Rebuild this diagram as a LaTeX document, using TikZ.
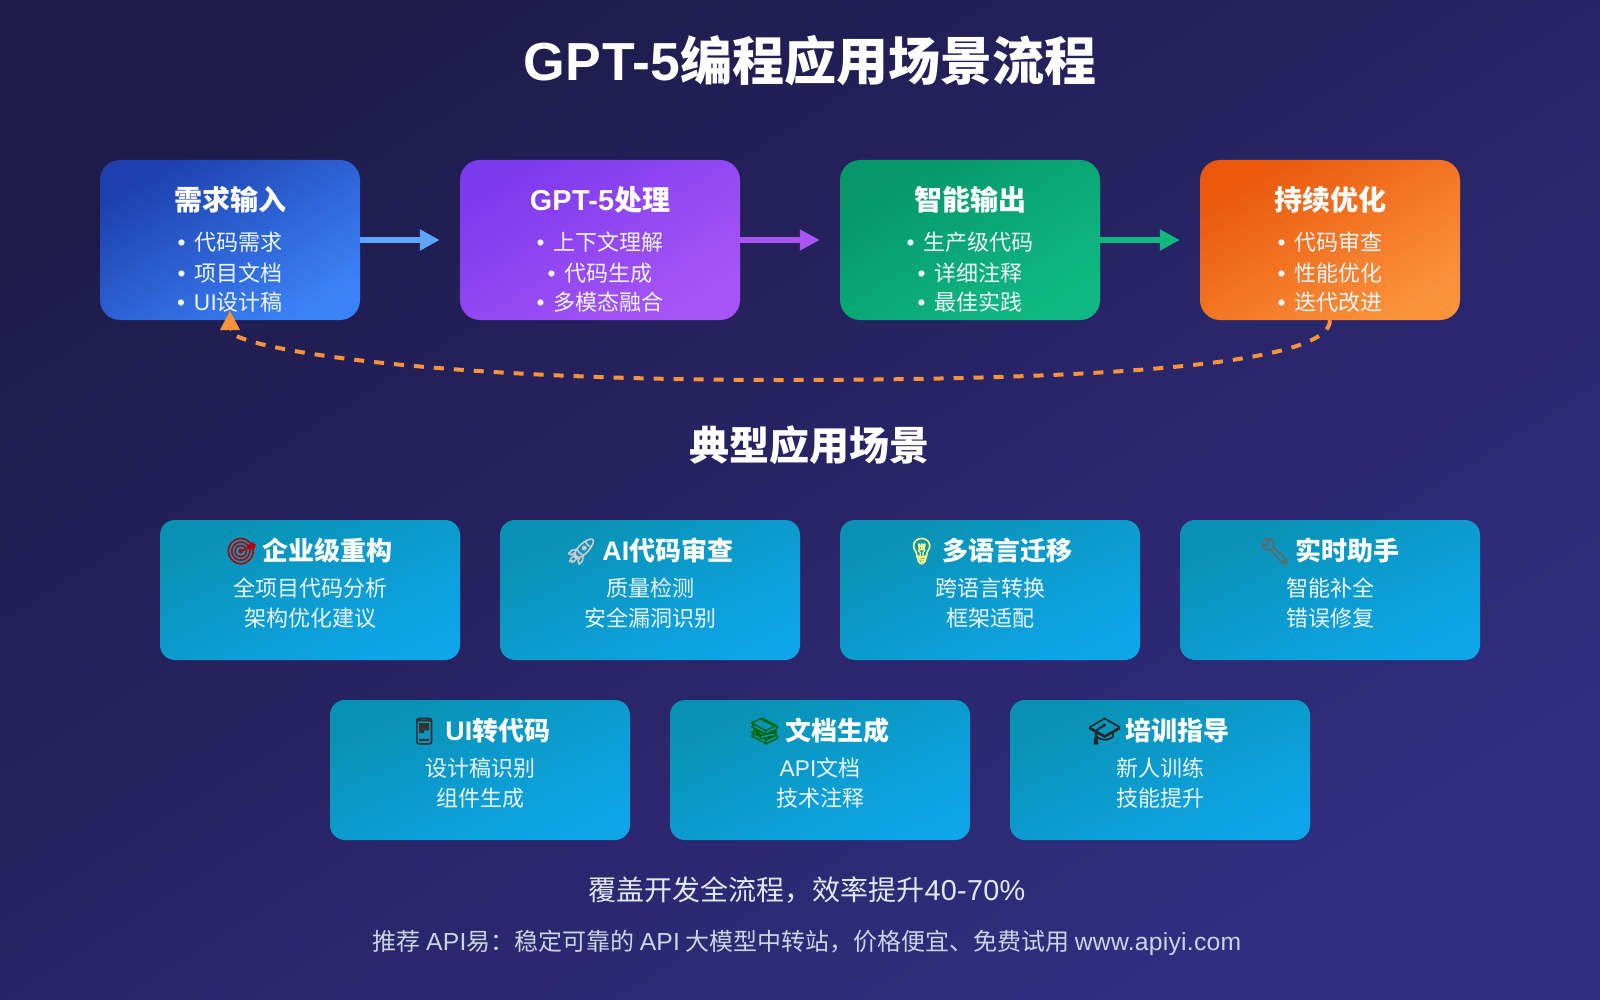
\documentclass[tikz,border=0pt]{standalone}
\usepackage{fontspec}
\setmainfont{Noto Sans CJK SC}
\newfontfamily\enfont[Scale=1.03,LetterSpace=1]{Liberation Sans}
\newfontfamily\emojifont[FakeBold=2]{Noto Emoji}
\usetikzlibrary{arrows.meta}
\newcommand{\en}[1]{{\enfont #1}}
\newcommand{\dotitem}{{\enfont\char"2022}\hspace{0.4em}}
\newcommand{\emo}[2]{{\emojifont\color{#1}#2}\hspace{0.18em}}
\definecolor{bgtop}{HTML}{1E1B4B}
\definecolor{bgend}{HTML}{312E81}
\definecolor{loopcol}{HTML}{FB923C}
\definecolor{linecol}{HTML}{EEF7FD}
\definecolor{sublinecol}{HTML}{E2E8F0}
\definecolor{notecol}{HTML}{CBD5E1}
\definecolor{scenetop}{HTML}{0891B2}
\definecolor{sceneend}{HTML}{0EA5E9}
\definecolor{reqtop}{HTML}{1E40AF}
\definecolor{reqend}{HTML}{3B82F6}
\definecolor{proctop}{HTML}{7C3AED}
\definecolor{procend}{HTML}{A855F7}
\definecolor{outtop}{HTML}{059669}
\definecolor{outend}{HTML}{10B981}
\definecolor{opttop}{HTML}{EA580C}
\definecolor{optend}{HTML}{FB923C}
\definecolor{arrowblue}{HTML}{60A5FA}
\tikzset{
  flowbox/.style n args={3}{rounded corners=20pt,inner sep=0pt,minimum height=160pt,minimum width=#1pt,
    top color=#2,bottom color=#3,shading angle=32},
  scenebox/.style={rounded corners=15pt,inner sep=0pt,minimum width=300pt,minimum height=140pt,
    top color=scenetop,bottom color=sceneend,shading angle=25},
  flowarrow/.style={line width=6pt,draw=#1,shorten >=20pt,-{Triangle[length=20pt,width=20pt,fill=#1]}},
}
\begin{document}
\begin{tikzpicture}[x=1pt,y=-1pt]
    % background
    \path[top color=bgtop,bottom color=bgend,shading angle=32] (0,0) rectangle (1600,1000);
    % flow row
    \node[flowbox={260}{reqtop}{reqend}] (reqbox) at (230,240) {};
    \node[flowbox={280}{proctop}{procend}] (procbox) at (600,240) {};
    \node[flowbox={260}{outtop}{outend}] (outbox) at (970,240) {};
    \node[flowbox={260}{opttop}{optend}] (optbox) at (1330,240) {};
    \draw[flowarrow=arrowblue] (reqbox) -- (procbox);
    \draw[flowarrow=procend] (procbox) -- (outbox);
    \draw[flowarrow=outend] (outbox) -- (optbox);
    % feedback loop
    \coordinate (loopend) at (230,330);
    \coordinate (looptip) at (230,311);
    \draw[loopcol,line width=4pt,dash pattern=on 10pt off 10pt] (optbox.south)
      .. controls (1330,360) and (1146.67,380) .. (780,380)
      .. controls (413.33,380) and (230,346.67) .. (loopend);
    \draw[loopcol,line width=0.1pt,-{Triangle[length=19pt,width=20pt,fill=loopcol]}] (loopend) -- (looptip);
    % scenario cards
    \begin{scope}[every node/.style={scenebox}]
      \node (targetbox) at (310,590) {};
      \node (reviewbox) at (650,590) {};
      \node (langbox) at (990,590) {};
      \node (helpbox) at (1330,590) {};
      \node (uibox) at (480,770) {};
      \node (docbox) at (820,770) {};
      \node (trainbox) at (1160,770) {};
    \end{scope}
    % page headings
    \begin{scope}[every node/.style={anchor=base,white,font=\bfseries}]
      \node[font=\bfseries\fontsize{52}{60}\selectfont] (title) at (810,81) {\en{\bfseries GPT-5}编程应用场景流程};
      \node[font=\bfseries\fontsize{40}{48}\selectfont] (scenetitle) at (809,460) {典型应用场景};
    \end{scope}
    % flow box texts
    \begin{scope}[every node/.style={anchor=base,white,font=\bfseries\fontsize{28}{34}\selectfont}]
      \node (reqtitle) at (230,211) {需求输入};
      \node (proctitle) at (600,211) {\en{\bfseries GPT-5}处理};
      \node (outtitle) at (970,211) {智能输出};
      \node (opttitle) at (1330,211) {持续优化};
    \end{scope}
    \begin{scope}[every node/.style={anchor=base,linecol,font=\fontsize{22}{26}\selectfont}]
      \node (req1) at (230,251) {\dotitem 代码需求};
      \node (req2) at (230,281) {\dotitem 项目文档};
      \node (req3) at (230,310) {\dotitem\en{UI}设计稿};
      \node (proc1) at (600,251) {\dotitem 上下文理解};
      \node (proc2) at (600,281) {\dotitem 代码生成};
      \node (proc3) at (600,310) {\dotitem 多模态融合};
      \node (out1) at (970,251) {\dotitem 生产级代码};
      \node (out2) at (970,281) {\dotitem 详细注释};
      \node (out3) at (970,310) {\dotitem 最佳实践};
      \node (opt1) at (1330,251) {\dotitem 代码审查};
      \node (opt2) at (1330,281) {\dotitem 性能优化};
      \node (opt3) at (1330,310) {\dotitem 迭代改进};
    \end{scope}
    % scenario titles
    \begin{scope}[every node/.style={anchor=base,white,font=\bfseries\fontsize{26}{32}\selectfont}]
      \node (targettitle) at (309,560) {\emo{red!70!black}{🎯}企业级重构};
      \node (reviewtitle) at (649,560) {\emo{white!80!black}{🚀}\en{\bfseries AI}代码审查};
      \node (langtitle) at (989,560) {\emo{yellow!50!white}{💡}多语言迁移};
      \node (helptitle) at (1329,560) {\emo{black!60}{🔧}实时助手};
      \node (uititle) at (479,740) {\emo{black!80}{📱}\en{\bfseries UI}转代码};
      \node (doctitle) at (819,740) {\emo{green!40!black}{📚}文档生成};
      \node (traintitle) at (1159,740) {\emo{black!85}{🎓}培训指导};
    \end{scope}
    % scenario lines
    \begin{scope}[every node/.style={anchor=base,linecol,font=\fontsize{22}{26}\selectfont}]
      \node (target1) at (310,596) {全项目代码分析};
      \node (target2) at (310,626) {架构优化建议};
      \node (review1) at (650,596) {质量检测};
      \node (review2) at (650,626) {安全漏洞识别};
      \node (lang1) at (990,596) {跨语言转换};
      \node (lang2) at (990,626) {框架适配};
      \node (help1) at (1330,596) {智能补全};
      \node (help2) at (1330,626) {错误修复};
      \node (ui1) at (480,776) {设计稿识别};
      \node (ui2) at (480,806) {组件生成};
      \node (doc1) at (820,776) {\en{API}文档};
      \node (doc2) at (820,806) {技术注释};
      \node (train1) at (1160,776) {新人训练};
      \node (train2) at (1160,806) {技能提升};
    \end{scope}
    % footer
    \node[anchor=base,sublinecol,font=\fontsize{28}{32}\selectfont] (sumline) at (807,900) {覆盖开发全流程，效率提升\en{40-70\%}};
    \node[anchor=base,notecol,font=\fontsize{24}{30}\selectfont] (noteline) at (807,950) {推荐 \en{API}易：稳定可靠的 \en{API} 大模型中转站，价格便宜、免费试用 \en{www.apiyi.com}};
  \end{tikzpicture}
\end{document}
